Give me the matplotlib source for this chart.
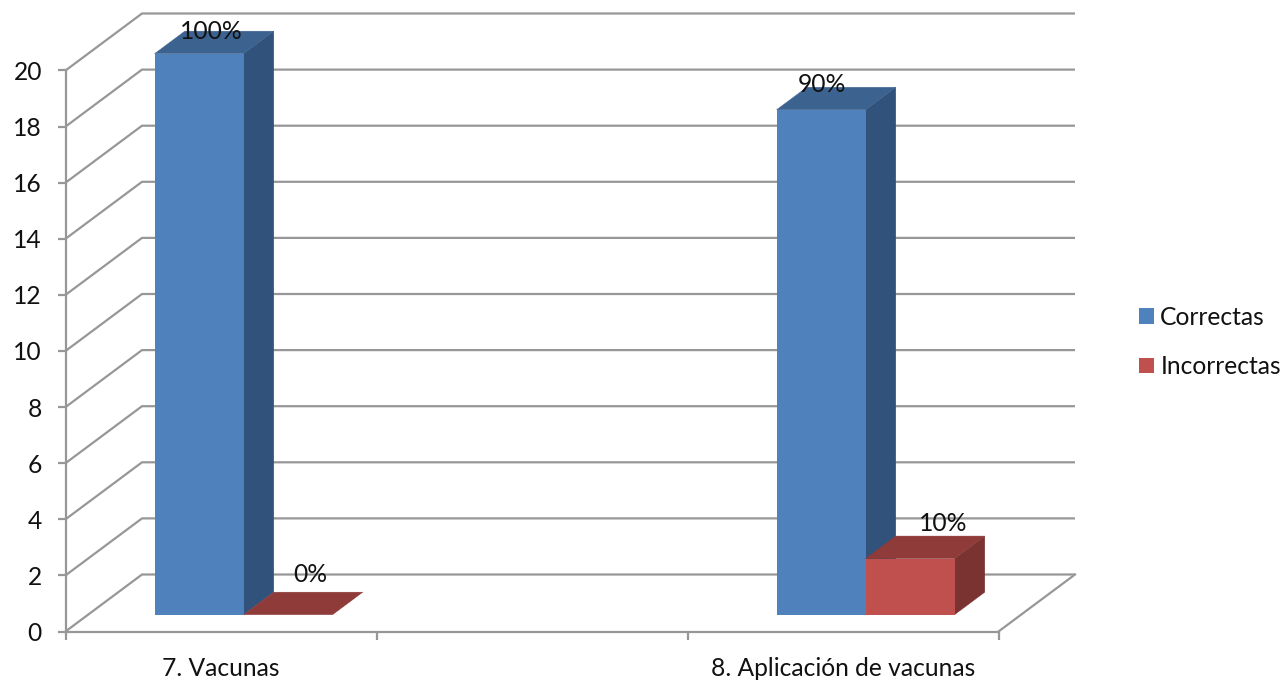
import matplotlib
matplotlib.use("Agg")
import matplotlib.pyplot as plt
from matplotlib.patches import Polygon, Patch

plt.rcParams['font.family'] = ['Lato', 'DejaVu Sans']

categories = ['7. Vacunas', '', '8. Aplicación de vacunas']
correctas = [20, 0, 18]
incorrectas = [0, 0, 2]
pct_correctas = ['100%', '', '90%']
pct_incorrectas = ['0%', '', '10%']
y_ticks = list(range(0, 21, 2))

W, H = 1285, 683
GRID = '#979797'
TEXT = '#111111'
FS = 17.7

# 3D look: pixel extent of the front plane and the slant of the depth axis
PX_LEFT, PX_RIGHT, PX_TOP, PX_BOTTOM = 65.5, 998.5, 70.5, 631.5
px_per_x = (PX_RIGHT - PX_LEFT) / 3
px_per_y = (PX_BOTTOM - PX_TOP) / 20
DEPTH_X = 76.5 / px_per_x
DEPTH_Y = 57.0 / px_per_y
BAR_NEAR, BAR_FAR = 0.295, 0.69
BAR_W = 89.0 / px_per_x

fig = plt.figure(figsize=(W / 100, H / 100), dpi=100)
ax = fig.add_axes([PX_LEFT / W, 1 - PX_BOTTOM / H,
                   (PX_RIGHT - PX_LEFT) / W, (PX_BOTTOM - PX_TOP) / H])
ax.set_xlim(0, 3)
ax.set_ylim(0, 20)
ax.patch.set_visible(False)
for side in ('top', 'right'):
    ax.spines[side].set_visible(False)
for side in ('left', 'bottom'):
    ax.spines[side].set_color(GRID)
    ax.spines[side].set_linewidth(1.6)

# Gridlines fold from the front plane back along the side wall
for v in y_ticks:
    ax.plot([0, DEPTH_X, 3 + DEPTH_X], [v, v + DEPTH_Y, v + DEPTH_Y],
            color=GRID, lw=1.6, clip_on=False, zorder=1, solid_capstyle='butt')
ax.plot([3, 3 + DEPTH_X], [0, DEPTH_Y], color=GRID, lw=1.6, clip_on=False, zorder=1)

ax.set_yticks(y_ticks)
ax.tick_params(axis='y', length=5.5, width=1.6, color=GRID, pad=11.5,
               labelsize=FS, labelcolor=TEXT)
ax.set_xticks([0, 1, 2, 3])
ax.set_xticklabels([])
ax.tick_params(axis='x', which='major', length=5.5, width=1.6, color=GRID)
ax.set_xticks([0.5, 1.5, 2.5], minor=True)
ax.set_xticklabels(categories, minor=True, fontsize=FS, color=TEXT)
ax.tick_params(axis='x', which='minor', length=0, pad=18.5)


def draw_bar(x0, value, front, side, top, z):
    """Front face plus the slanted side and top faces of one 3D column."""
    x1 = x0 + BAR_W
    base = BAR_NEAR * DEPTH_Y
    sx = (BAR_FAR - BAR_NEAR) * DEPTH_X
    sy = (BAR_FAR - BAR_NEAR) * DEPTH_Y
    y1 = base + value
    if value > 0:
        ax.add_patch(Polygon([(x1, base), (x1 + sx, base + sy),
                              (x1 + sx, y1 + sy), (x1, y1)],
                             facecolor=side, edgecolor=side, linewidth=0.3,
                             clip_on=False, zorder=z))
    ax.add_patch(Polygon([(x0, y1), (x1, y1), (x1 + sx, y1 + sy), (x0 + sx, y1 + sy)],
                         facecolor=top, edgecolor=top, linewidth=0.3,
                         clip_on=False, zorder=z))
    ax.bar(x0, value, BAR_W, bottom=base, align='edge', color=front,
           linewidth=0, clip_on=False, zorder=z)
    return (x0 + x1) / 2, y1


blue = ('#4F81BD', '#31527A', '#3C6290')
red = ('#C0504D', '#7A3331', '#8E3B39')
label_offsets_blue = {0: (12, 22.5), 2: (1, 25.5)}
label_offsets_red = {0: (22.5, 40.5), 2: (33.5, 35.5)}

for i in (0, 2):
    centre = i + 0.5 + BAR_NEAR * DEPTH_X
    xb, yb = draw_bar(centre - BAR_W, correctas[i], *blue, 3)
    xr, yr = draw_bar(centre, incorrectas[i], *red, 4)
    for (x, y, text, off) in ((xb, yb, pct_correctas[i], label_offsets_blue[i]),
                              (xr, yr, pct_incorrectas[i], label_offsets_red[i])):
        ax.annotate(text, (x, y), xytext=(off[0] * 0.72, off[1] * 0.72),
                    textcoords='offset points', ha='center', va='center',
                    fontsize=FS, color=TEXT, zorder=6, annotation_clip=False)

handles = [Patch(facecolor=blue[0], label='Correctas'),
           Patch(facecolor=red[0], label='Incorrectas')]
fig.legend(handles=handles, loc='center left', bbox_to_anchor=(1132 / W, 1 - 341.8 / H),
           frameon=False, fontsize=FS, labelcolor=TEXT, handlelength=0.61, handleheight=0.61,
           handletextpad=0.24, labelspacing=1.08, borderpad=0, borderaxespad=0.3)

fig.savefig('out.png', dpi=100)
